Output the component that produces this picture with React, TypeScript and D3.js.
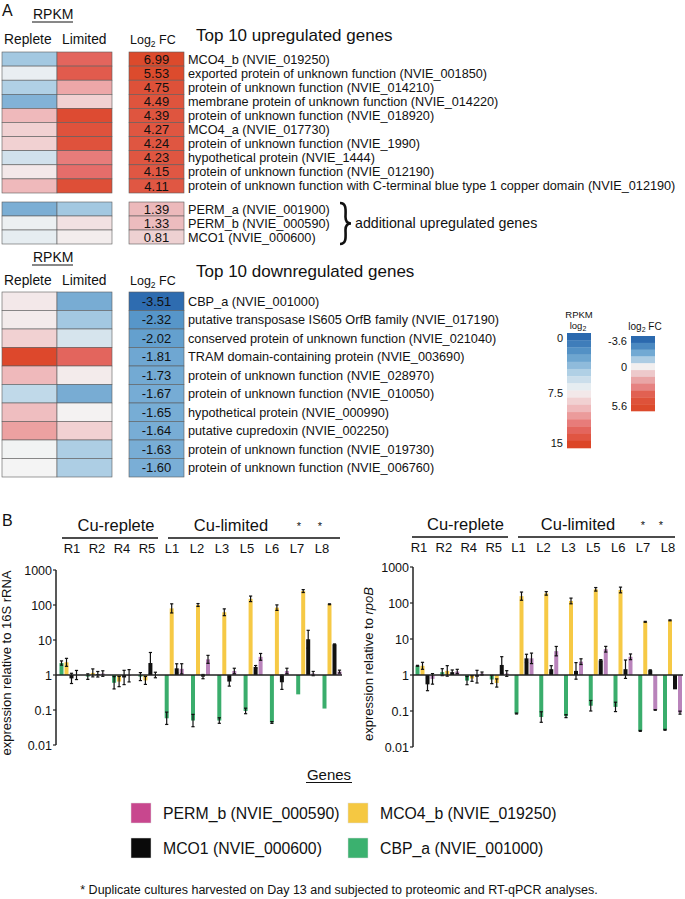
import React from 'react';
import * as d3 from 'd3';

const FONT = '"Liberation Sans", Arial, Helvetica, sans-serif';

// ---------- Panel A data ----------
const upGenes = [
  'MCO4_b (NVIE_019250)',
  'exported protein of unknown function (NVIE_001850)',
  'protein of unknown function (NVIE_014210)',
  'membrane protein of unknown function (NVIE_014220)',
  'protein of unknown function (NVIE_018920)',
  'MCO4_a (NVIE_017730)',
  'protein of unknown function (NVIE_1990)',
  'hypothetical protein (NVIE_1444)',
  'protein of unknown function (NVIE_012190)',
  'protein of unknown function with C-terminal blue type 1 copper domain (NVIE_012190)',
];
const upFC = [6.99, 5.53, 4.75, 4.49, 4.39, 4.27, 4.24, 4.23, 4.15, 4.11];
const upReplete = [4.6, 7.1, 5.0, 3.6, 10.0, 9.0, 9.0, 6.2, 8.0, 10.0];
const upLimited = [13.0, 13.6, 10.6, 9.0, 14.6, 14.2, 14.2, 12.0, 12.5, 14.4];

const addGenes = ['PERM_a (NVIE_001900)', 'PERM_b (NVIE_000590)', 'MCO1 (NVIE_000600)'];
const addFC = [1.39, 1.33, 0.81];
const addReplete = [3.4, 7.2, 7.0];
const addLimited = [4.6, 8.3, 7.8];

const downGenes = [
  'CBP_a (NVIE_001000)',
  'putative transposase IS605 OrfB family (NVIE_017190)',
  'conserved protein of unknown function (NVIE_021040)',
  'TRAM domain-containing protein (NVIE_003690)',
  'protein of unknown function (NVIE_028970)',
  'protein of unknown function (NVIE_010050)',
  'hypothetical protein (NVIE_000990)',
  'putative cupredoxin (NVIE_002250)',
  'protein of unknown function (NVIE_019730)',
  'protein of unknown function (NVIE_006760)',
];
const downFC = [-3.51, -2.32, -2.02, -1.81, -1.73, -1.67, -1.65, -1.64, -1.63, -1.6];
const downReplete = [8.0, 7.9, 9.0, 14.8, 10.0, 5.6, 9.8, 10.8, 7.4, 7.5];
const downLimited = [3.3, 4.6, 6.4, 13.0, 7.9, 3.3, 7.6, 9.0, 4.9, 4.9];

const rpkmLegendTicks = ['0', '7.5', '15'];
const fcLegendTicks = ['-3.6', '0', '5.6'];

// ---------- Panel B data ----------
const groups = ['R1', 'R2', 'R4', 'R5', 'L1', 'L2', 'L3', 'L5', 'L6', 'L7', 'L8'];
const geneNames = ['CBP_a', 'MCO4_b', 'MCO1', 'PERM_b'];
const barColors = ['#3aad6c', '#f6c945', '#111111', '#b983bb'];

// relative to 16S rRNA
const rrnaCBP = [2.2, 0.9, 0.6, 0.9, 0.058, 0.05, 0.05, 0.094, 0.044, 0.28, 0.11];
const rrnaMCO4 = [2.3, 1.15, 0.65, 0.7, 80, 100, 62, 150, 84, 250, 105];
const rrnaMCO1 = [0.8, 1.05, 0.85, 2.2, 1.55, 0.9, 0.65, 1.7, 0.62, 10.5, 7.5];
const rrnaPERM = [1.0, 1.1, 0.95, 1.0, 1.5, 2.8, 1.3, 3.3, 1.3, 1.1, 1.25];
const rrnaErrCBP = [1.15, 1.2, 1.5, 1.3, 1.5, 1.5, 1.2, 1.2, 1.06, 1, 1];
const rrnaErrMCO4 = [1.3, 1.3, 1.4, 1.3, 1.35, 1.1, 1.25, 1.2, 1.2, 1.1, 1.03];
const rrnaErrMCO1 = [1.4, 1.2, 1.6, 2.0, 1.35, 1.15, 1.35, 1.1, 1.6, 1.8, 1.03];
const rrnaErrPERM = [1.35, 1.2, 1.5, 1.2, 1.4, 1.3, 1.2, 1.25, 1.2, 1.15, 1.1];

// relative to rpoB
const rpobCBP = [1.8, 1.2, 0.7, 0.75, 0.085, 0.068, 0.072, 0.14, 0.13, 0.028, 0.03];
const rpobMCO4 = [1.8, 1.3, 0.8, 0.6, 155, 185, 114, 240, 230, 30, 33];
const rpobMCO1 = [0.55, 1.2, 0.9, 1.9, 2.9, 1.45, 1.3, 2.55, 1.45, 1.35, 0.4];
const rpobPERM = [0.78, 1.25, 1.1, 1.1, 2.9, 4.6, 2.35, 5.2, 3.2, 0.107, 0.09];
const rpobErrCBP = [1.03, 1.25, 1.3, 1.3, 1.03, 1.4, 1.1, 1.4, 1.35, 1.03, 1.03];
const rpobErrMCO4 = [1.25, 1.4, 1.2, 1.3, 1.3, 1.12, 1.2, 1.12, 1.2, 1.03, 1.03];
const rpobErrMCO1 = [1.5, 1.15, 1.5, 1.7, 1.3, 1.25, 1.7, 1.05, 1.8, 1.03, 1];
const rpobErrPERM = [1.4, 1.15, 1.1, 1.2, 1.4, 1.35, 1.2, 1.2, 1.2, 1.02, 1.1];

const yTicks = [0.01, 0.1, 1, 10, 100, 1000];
const yTickLabels = ['0.01', '0.1', '1', '10', '100', '1000'];

const legendItems = [
  { name: 'PERM_b (NVIE_000590)', color: '#c8478e' },
  { name: 'MCO4_b (NVIE_019250)', color: '#f5c842' },
  { name: 'MCO1 (NVIE_000600)', color: '#0a0a0a' },
  { name: 'CBP_a (NVIE_001000)', color: '#3bb16f' },
];

// ---------- colour scales ----------
const rpkmColor = d3
  .scaleLinear<string>()
  .domain([0, 2.5, 5, 7.5, 10, 12.5, 15])
  .range(['#2b69ae', '#5d9bcb', '#b0d0e5', '#f4f4f4', '#efb9bb', '#e56d6a', '#dc4527'])
  .clamp(true);
const fcColor = d3
  .scaleLinear<string>()
  .domain([-3.6, -2.2, -1.2, 0, 1.5, 3, 4, 5.6])
  .range(['#2b69ae', '#5b9acb', '#8ebcdd', '#f2f2f2', '#ebb5b7', '#e57c7a', '#e05845', '#dc4a2c'])
  .clamp(true);

const CELL_STROKE = '#5c5c5c';
const LABEL_SIZE = 12.7;

function HeatBlock({ y0, rowH, replete, limited, fc, labels }: any) {
  const n = fc.length;
  const rows = d3.range(n);
  const yb = d3.scaleLinear().domain([0, n]).range([y0, y0 + rowH * n]);
  return (
    <g>
      {rows.map((i) => (
        <g key={i}>
          <rect x={2} y={yb(i)} width={55} height={rowH} fill={rpkmColor(replete[i])} stroke={CELL_STROKE} strokeWidth={0.6} />
          <rect x={57} y={yb(i)} width={55} height={rowH} fill={rpkmColor(limited[i])} stroke={CELL_STROKE} strokeWidth={0.6} />
          <rect x={129} y={yb(i)} width={55} height={rowH} fill={fcColor(fc[i])} stroke={CELL_STROKE} strokeWidth={0.6} />
          <text x={156.5} y={yb(i) + rowH / 2 + 4.6} textAnchor="middle" fontSize={13} fill="#111">
            {fc[i].toFixed(2)}
          </text>
          <text x={188} y={yb(i) + rowH / 2 + 4.5} fontSize={LABEL_SIZE} fill="#111">
            {labels[i]}
          </text>
        </g>
      ))}
    </g>
  );
}

function ColHeaders({ base, rpkmY }: any) {
  return (
    <g fill="#111">
      <text x={33} y={rpkmY} fontSize={14}>RPKM</text>
      <line x1={32} x2={73} y1={rpkmY + 3} y2={rpkmY + 3} stroke="#111" strokeWidth={1} />
      <text x={4} y={base} fontSize={13.8}>Replete</text>
      <text x={62} y={base} fontSize={13.8}>Limited</text>
      <text x={130} y={base} fontSize={12.5}>
        Log<tspan fontSize={8.5} dy={3}>2</tspan>
        <tspan dy={-3}> FC</tspan>
      </text>
    </g>
  );
}

function BarPanel(p: any) {
  const y = d3.scaleLog().domain([0.01, 1000]).range([p.yBot, p.yTop]);
  const gx = d3.scalePoint().domain(groups).range([p.gx0, p.gx1]);
  const lx = d3.scalePoint().domain(groups).range([p.lx0, p.lx1]);
  const y1 = y(1);
  const step = 5;
  return (
    <g>
      <text x={p.repCx} y={p.headY} textAnchor="middle" fontSize={16.5} fill="#111">Cu-replete</text>
      <text x={p.limCx} y={p.headY} textAnchor="middle" fontSize={16.5} fill="#111">Cu-limited</text>
      <line x1={p.repL[0]} x2={p.repL[1]} y1={p.lineY} y2={p.lineY} stroke="#111" strokeWidth={1.5} />
      <line x1={p.limL[0]} x2={p.limL[1]} y1={p.lineY} y2={p.lineY} stroke="#111" strokeWidth={1.5} />
      {p.stars.map((sx: number, i: number) => (
        <text key={i} x={sx} y={p.headY - 1} textAnchor="middle" fontSize={11} fill="#111">*</text>
      ))}
      {groups.map((g) => (
        <text key={g} x={lx(g)} y={p.labY} textAnchor="middle" fontSize={13} fill="#111">{g}</text>
      ))}
      {p.series.map((vals: number[], k: number) =>
        groups.map((g, i) => {
          const v = vals[i];
          const xc = (gx(g) as number) + (k - 1.5) * step;
          const yv = y(v);
          return (
            <rect key={k + g} x={xc - 2} width={4} y={Math.min(yv, y1)} height={Math.abs(yv - y1)} fill={barColors[k]} />
          );
        })
      )}
      {p.series.map((vals: number[], k: number) =>
        groups.map((g, i) => {
          const f = p.errs[k][i];
          if (f <= 1) return null;
          const v = vals[i];
          const xc = (gx(g) as number) + (k - 1.5) * step;
          const ya = y(v / f);
          const yb = y(v * f);
          return (
            <g key={'e' + k + g} stroke="#111" strokeWidth={1.2}>
              <line x1={xc} x2={xc} y1={ya} y2={yb} />
              <line x1={xc - 1.6} x2={xc + 1.6} y1={ya} y2={ya} />
              <line x1={xc - 1.6} x2={xc + 1.6} y1={yb} y2={yb} />
            </g>
          );
        })
      )}
      <line x1={p.axisX} x2={p.axisX} y1={p.yTop} y2={p.yBot} stroke="#222" strokeWidth={1.5} />
      {yTicks.map((t, i) => (
        <g key={t}>
          <line x1={p.axisX - 3} x2={p.axisX} y1={y(t)} y2={y(t)} stroke="#222" strokeWidth={1.2} />
          <text x={p.axisX - 4} y={y(t) + 4.5} textAnchor="end" fontSize={12.5} fill="#111">{yTickLabels[i]}</text>
        </g>
      ))}
      <line x1={p.axisX} x2={p.endX} y1={y1} y2={y1} stroke="#222" strokeWidth={1.4} />
      <text transform={`translate(${p.ylabX},${p.ylabY}) rotate(-90)`} textAnchor="middle" fontSize={13} fill="#111">
        {p.ylabel}
        {p.ylabelItalic ? <tspan fontStyle="italic">{p.ylabelItalic}</tspan> : null}
      </text>
    </g>
  );
}

export default function App() {
  const rpkmBands = d3.range(16);
  const rpkmBand = d3.scaleLinear().domain([0, 16]).range([333, 448]);
  const fcBands = d3.range(11);
  const fcBandVal = d3.scaleLinear().domain([0, 10]).range([-3.6, 5.6]);
  const fcBand = d3.scaleLinear().domain([0, 11]).range([336, 411]);

  return (
    <svg width={685} height={899} style={{ position: 'absolute', left: 0, top: 0, background: '#fff' }} fontFamily={FONT}>
      <rect x={0} y={0} width={685} height={899} fill="#fff" />
      {/* Panel A */}
      <text x={2} y={16} fontSize={16} fill="#111">A</text>
      <ColHeaders base={44} rpkmY={19} />
      <text x={196} y={41} fontSize={17} fill="#111">Top 10 upregulated genes</text>
      <HeatBlock y0={52} rowH={14.1} replete={upReplete} limited={upLimited} fc={upFC} labels={upGenes} />
      <HeatBlock y0={202} rowH={14} replete={addReplete} limited={addLimited} fc={addFC} labels={addGenes} />
      <path
        d="M340,203 C347,203 345.5,211 345.5,217 C345.5,221.5 347,223.5 351,223.5 C347,223.5 345.5,225.5 345.5,230 C345.5,236 347,244 340,244"
        fill="none"
        stroke="#111"
        strokeWidth={2.6}
      />
      <text x={355} y={228} fontSize={14.2} fill="#111">additional upregulated genes</text>

      <ColHeaders base={285} rpkmY={262} />
      <text x={196} y={277} fontSize={17} fill="#111">Top 10 downregulated genes</text>
      <HeatBlock y0={292} rowH={18.5} replete={downReplete} limited={downLimited} fc={downFC} labels={downGenes} />

      {/* RPKM legend */}
      <text x={579} y={318} textAnchor="middle" fontSize={9.5} fill="#111">RPKM</text>
      <text x={578} y={329} textAnchor="middle" fontSize={9.5} fill="#111">
        log<tspan fontSize={7} dy={2}>2</tspan>
      </text>
      {rpkmBands.map((i) => (
        <rect key={i} x={567} y={rpkmBand(i)} width={24} height={rpkmBand(i + 1) - rpkmBand(i) + 0.3} fill={rpkmColor(i)} />
      ))}
      {rpkmLegendTicks.map((t, i) => (
        <text key={t} x={563} y={[342, 397, 447][i]} textAnchor="end" fontSize={11} fill="#111">{t}</text>
      ))}
      {/* FC legend */}
      <text x={645} y={330} textAnchor="middle" fontSize={10} fill="#111">
        log<tspan fontSize={7} dy={2}>2</tspan>
        <tspan dy={-2}> FC</tspan>
      </text>
      {fcBands.map((i) => (
        <rect key={i} x={631} y={fcBand(i)} width={24} height={fcBand(i + 1) - fcBand(i) + 0.3} fill={fcColor(fcBandVal(i))} />
      ))}
      {fcLegendTicks.map((t, i) => (
        <text key={t} x={627} y={[345, 371, 410][i]} textAnchor="end" fontSize={11} fill="#111">{t}</text>
      ))}

      {/* Panel B */}
      <text x={2} y={526} fontSize={16} fill="#111">B</text>
      <BarPanel
        axisX={56}
        yTop={570}
        yBot={745}
        gx0={69}
        gx1={332}
        lx0={72}
        lx1={322}
        endX={342}
        headY={531}
        lineY={538}
        labY={553}
        repCx={116}
        limCx={231}
        repL={[62, 158]}
        limL={[168, 340]}
        stars={[299, 320]}
        series={[rrnaCBP, rrnaMCO4, rrnaMCO1, rrnaPERM]}
        errs={[rrnaErrCBP, rrnaErrMCO4, rrnaErrMCO1, rrnaErrPERM]}
        ylabel="expression relative to 16S rRNA"
        ylabX={11}
        ylabY={663}
      />
      <BarPanel
        axisX={413}
        yTop={567}
        yBot={747}
        gx0={425}
        gx1={672.5}
        lx0={419}
        lx1={668}
        endX={683}
        headY={530}
        lineY={537}
        labY={552}
        repCx={465.5}
        limCx={578}
        repL={[412, 508]}
        limL={[518, 675]}
        stars={[643, 661]}
        series={[rpobCBP, rpobMCO4, rpobMCO1, rpobPERM]}
        errs={[rpobErrCBP, rpobErrMCO4, rpobErrMCO1, rpobErrPERM]}
        ylabel="expression relative to "
        ylabelItalic="rpoB"
        ylabX={373}
        ylabY={664}
      />

      {/* Genes legend */}
      <text x={329} y={780} textAnchor="middle" fontSize={15} fill="#111">Genes</text>
      <line x1={306} x2={352} y1={782.5} y2={782.5} stroke="#111" strokeWidth={1} />
      {legendItems.map((it, i) => {
        const lxp = i % 2 === 0 ? 131 : 348;
        const lyp = i < 2 ? 803 : 838;
        return (
          <g key={it.name}>
            <rect x={lxp} y={lyp} width={20} height={20} fill={it.color} stroke="#ddd" strokeWidth={0.5} />
            <text x={lxp + 32} y={lyp + 16} fontSize={15.8} fill="#111">{it.name}</text>
          </g>
        );
      })}
      <text x={339} y={894} textAnchor="middle" fontSize={12.5} fill="#111">
        * Duplicate cultures harvested on Day 13 and subjected to proteomic and RT-qPCR analyses.
      </text>
    </svg>
  );
}
